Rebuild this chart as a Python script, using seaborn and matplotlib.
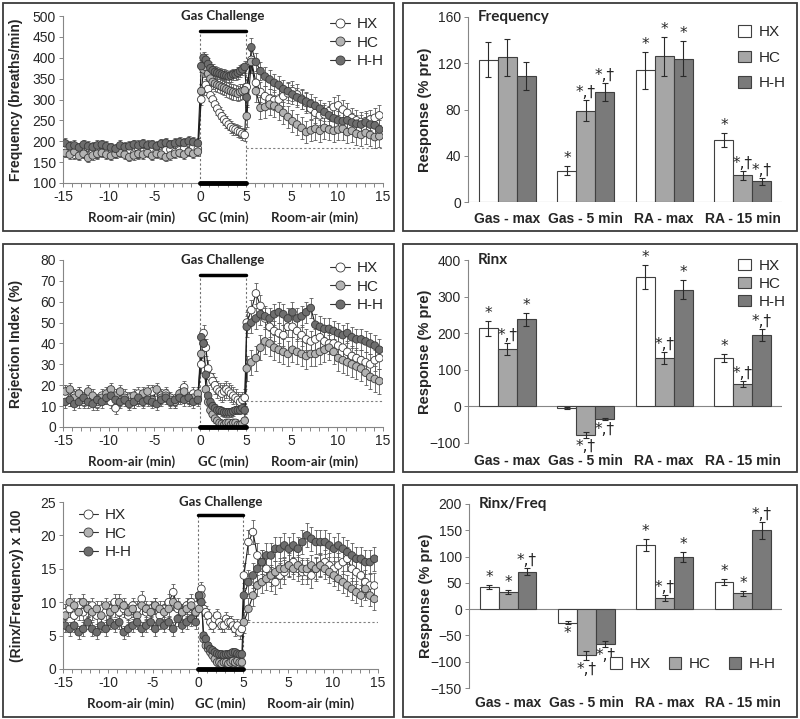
import numpy as np
import pandas as pd
import matplotlib
matplotlib.use('Agg')
import matplotlib.pyplot as plt
import matplotlib.transforms as mtransforms
from matplotlib.lines import Line2D
from matplotlib.patches import Patch, Rectangle
import seaborn as sns

sns.set_theme(style='white')
plt.rcParams['font.family'] = ['Liberation Sans', 'DejaVu Sans']

groups = ['HX', 'HC', 'H-H']

# time grid (min): baseline room air, gas challenge, recovery room air
t_base = np.arange(-14.75, 0, 0.5)
t_gas = np.arange(0.125, 5, 0.25)
t_post = np.arange(5.1, 20, 0.5)
t_all = np.concatenate([t_base, t_gas, t_post])
phase_len = [len(t_base), len(t_gas), len(t_post)]

# ---- Frequency (breaths/min) ----
freq_hx = [180, 172, 168, 175, 170, 165, 172, 168, 174, 178, 172, 170, 176, 180, 175,
           170, 168, 174, 178, 182, 176, 172, 178, 180, 174, 178, 182, 176, 185, 182,
           300, 325, 335, 325, 310, 300, 288, 278, 268, 260, 252, 246, 240, 234, 230,
           228, 224, 222, 218, 215,
           330, 395, 340, 318, 308, 302, 298, 300, 308, 315, 320, 312, 302, 292, 278,
           268, 262, 264, 272, 282, 286, 276, 268, 256, 250, 246, 248, 252, 256, 262]
freq_hc = [172, 168, 175, 165, 170, 160, 166, 170, 172, 168, 165, 170, 172, 168, 162,
           166, 170, 168, 172, 165, 170, 168, 162, 166, 170, 172, 168, 175, 170, 175,
           320, 372, 378, 362, 350, 342, 338, 335, 333, 330, 328, 325, 322, 320, 318,
           316, 314, 318, 320, 322,
           260, 390, 320, 280, 282, 288, 285, 278, 268, 258, 248, 240, 232, 222, 226,
           230, 225, 232, 228, 225, 228, 230, 222, 225, 218, 215, 220, 215, 210, 212]
freq_hh = [195, 188, 190, 185, 192, 188, 186, 190, 192, 188, 185, 182, 190, 186, 188,
           192, 190, 194, 190, 192, 188, 194, 196, 192, 195, 198, 196, 200, 198, 195,
           380, 400, 395, 385, 375, 370, 366, 364, 362, 360, 358, 357, 355, 357, 360,
           360, 364, 368, 372, 378,
           305, 425, 390, 368, 355, 348, 340, 335, 325, 320, 312, 305, 300, 295, 290,
           285, 278, 270, 262, 255, 250, 248, 250, 245, 242, 240, 245, 240, 238, 228]
freq_err = {'HX': [10, 14, 24], 'HC': [10, 18, 26], 'H-H': [12, 14, 22]}

# ---- Rejection Index (%) ----
ri_hx = [14, 13, 15, 16, 12, 14, 13, 11, 15, 14, 12, 9, 13, 15, 14,
         12, 16, 13, 14, 17, 13, 15, 16, 14, 12, 15, 19, 14, 16, 14,
         30, 45, 38, 28, 24, 22, 20, 18, 17, 16, 17, 18, 17, 16, 15,
         14, 13, 12, 13, 14,
         50, 56, 64, 58, 52, 48, 46, 45, 44, 48, 48, 46, 44, 42, 41,
         42, 43, 41, 40, 40, 39, 38, 36, 34, 33, 32, 31, 30, 32, 33]
ri_hc = [17, 18, 14, 16, 13, 17, 15, 12, 14, 16, 18, 15, 17, 14, 12,
         15, 13, 16, 17, 13, 18, 14, 15, 13, 12, 16, 17, 13, 14, 16,
         35, 40, 18, 12, 8, 6, 4, 3, 2, 1.5, 1, 2, 2, 1, 2,
         2, 1, 1, 1.5, 3,
         28, 31, 33, 38, 41, 40, 38, 37, 36, 35, 37, 36, 35, 34, 35,
         35, 36, 37, 38, 36, 33, 32, 31, 30, 29, 28, 26, 24, 23, 22]
ri_hh = [12, 13, 11, 12, 14, 12, 11, 13, 12, 14, 15, 13, 12, 13, 11,
         12, 14, 12, 13, 12, 11, 13, 14, 12, 13, 14, 13, 14, 12, 13,
         43, 40, 25, 15, 12, 10, 9, 8, 8, 7.5, 7, 7, 7, 7, 7.5,
         8, 8, 8, 9, 8,
         48, 50, 52, 54, 53, 52, 54, 55, 54, 52, 55, 52, 53, 55, 57,
         49, 48, 47, 47, 46, 45, 44, 45, 43, 42, 42, 41, 40, 39, 37]
ri_err = {'HX': [3, 4, 5], 'HC': [3, 2, 6], 'H-H': [3, 2, 5]}

# ---- (Rinx/Frequency) x 100 ----
rf_hx = [8.5, 9, 8, 9.5, 8.5, 9, 9.5, 8, 9, 8.5, 9, 10, 8.5, 9, 8,
         9.5, 9, 10.5, 8.5, 9, 9.5, 8, 9, 10, 11.5, 9, 8.5, 9.5, 10, 9.5,
         11, 12, 9, 8.5, 8, 7, 6.5, 7.5, 8, 7, 6.5, 6.5, 7.5, 7, 7,
         6.5, 6, 6.5, 5.5, 6,
         14, 19, 20.5, 17, 16, 15, 13.5, 13, 14, 14.5, 15.5, 16, 15, 14.5, 14.5,
         14, 15, 15.5, 16, 15.5, 15, 15.5, 16, 16.5, 15, 14.5, 14, 13, 12.5, 12.5]
rf_hc = [8, 10, 9.5, 8.5, 10, 9, 8.5, 9, 8, 9.5, 8.5, 9, 10, 9.5, 8.5,
         9, 8, 9.5, 9, 8.5, 9.5, 9, 8.5, 9, 10, 9.5, 8.5, 9, 9.5, 8.5,
         9, 11, 4.5, 3.5, 3, 2.5, 2, 1.5, 1, 1, 0.8, 1, 1, 0.8, 1,
         1.2, 1, 1.2, 1, 1,
         7, 9, 11, 12.5, 13, 13.5, 14, 14.5, 15, 15, 15.5, 15, 15.5, 15, 15,
         15.5, 15, 15.5, 15, 14.5, 14, 13.5, 13, 12.5, 12, 11.5, 11, 12, 11, 10.5]
rf_hh = [6.5, 6, 6.5, 5.5, 6, 7, 6, 5.5, 6.5, 6, 7, 6.5, 7, 5.5, 6,
         6.5, 7, 6, 6.5, 7, 6, 7, 6.5, 7, 6, 7.5, 6.5, 7, 7.5, 7,
         11, 10, 5, 4.5, 3.5, 3, 2.8, 2.5, 2.3, 2.2, 2.2, 2.1, 2.2, 2.2, 2.3,
         2.5, 2.5, 2.3, 2.2, 2.2,
         11, 13, 14, 15, 16, 17, 17, 18, 18, 18.5, 18, 18.5, 18, 19, 20,
         19.5, 19, 19, 19, 18.5, 18, 18.5, 18, 17.5, 17, 16.5, 16.5, 16, 16, 16.5]
rf_err = {'HX': [1.2, 1.0, 1.8], 'HC': [1.2, 0.5, 1.6], 'H-H': [1.0, 0.5, 1.8]}

# ---- bar summaries (% pre) ----
categories = ['Gas - max', 'Gas - 5 min', 'RA - max', 'RA - 15 min']
bf_vals = {'HX': [123, 27, 114, 54], 'HC': [125, 79, 126, 23], 'H-H': [109, 95, 124, 18]}
bf_errs = {'HX': [15, 4, 16, 6], 'HC': [16, 9, 17, 4], 'H-H': [12, 8, 15, 3]}
bf_marks = {'HX': ['', '*', '*', '*'], 'HC': ['', '*,†', '*', '*,†'], 'H-H': ['', '*,†', '*', '*,†']}

br_vals = {'HX': [213, -5, 353, 133], 'HC': [157, -78, 132, 61], 'H-H': [238, -35, 319, 195]}
br_errs = {'HX': [20, 2, 32, 11], 'HC': [16, 8, 16, 8], 'H-H': [18, 3, 26, 16]}
br_marks = {'HX': ['*', '', '*', '*'], 'HC': ['*,†', '*,†', '*,†', '*,†'], 'H-H': ['*', '*,†', '*', '*,†']}

bq_vals = {'HX': [42, -26, 122, 51], 'HC': [32, -88, 21, 30], 'H-H': [71, -66, 99, 150]}
bq_errs = {'HX': [4, 3, 11, 6], 'HC': [4, 9, 5, 5], 'H-H': [7, 6, 9, 16]}
bq_marks = {'HX': ['*', '*', '*', '*'], 'HC': ['*', '*,†', '*,†', '*'], 'H-H': ['*,†', '*,†', '*', '*,†']}

marker_face = {'HX': 'white', 'HC': '#b3b3b3', 'H-H': '#6e6e6e'}
bar_face = {'HX': 'white', 'HC': '#a6a6a6', 'H-H': '#7a7a7a'}
axis_grey = '#868686'
cal = ['Lato', 'DejaVu Sans']

W, H = 800, 719
fig = plt.figure(figsize=(W / 100, H / 100), dpi=100)


def px_axes(l, t, r, b):
    return fig.add_axes([l / W, 1 - b / H, (r - l) / W, (b - t) / H])


def timecourse(ax, series, errs, ylim, yticks, ylabel, base_level, bar_y, leg_kw):
    frames = []
    for g in groups:
        frames.append(pd.DataFrame({'t': t_all, 'v': series[g],
                                    'e': np.repeat(errs[g], phase_len), 'group': g}))
    df = pd.concat(frames, ignore_index=True)
    for g in groups:
        d = df[df['group'] == g]
        ax.errorbar(d['t'], d['v'], yerr=d['e'], fmt='none', ecolor='#5a5a5a',
                    elinewidth=0.6, capsize=1.5, capthick=0.6, zorder=2)
    sns.lineplot(data=df, x='t', y='v', hue='group', hue_order=groups,
                 palette={g: '#1e1e1e' for g in groups}, linewidth=0.8,
                 estimator=None, legend=False, ax=ax, zorder=3)
    sns.scatterplot(data=df, x='t', y='v', hue='group', hue_order=groups,
                    palette=marker_face, edgecolor='#3a3a3a', linewidth=0.6,
                    s=30, legend=False, ax=ax, zorder=4)
    lo, hi = ylim
    # gas challenge markings
    ax.plot([0, 5], [bar_y, bar_y], color='black', lw=2.5, zorder=5)
    ax.plot([0, 5], [lo, lo], color='black', lw=3.5, zorder=6, clip_on=False)
    for xv in (0, 5):
        ax.plot([xv, xv], [lo, bar_y], color='#707070', lw=0.8, ls=(0, (2, 2)), zorder=1)
    ax.plot([5, 20], [base_level, base_level], color='#808080', lw=0.8, ls=(0, (2, 2)), zorder=1)
    trans = mtransforms.blended_transform_factory(ax.transData, ax.transAxes)
    ax.text(2.5, 1.0, 'Gas Challenge', transform=trans, ha='center', va='center',
            family=cal, fontweight='bold', fontsize=9.5)
    for xv, lab in [(-7.5, 'Room-air (min)'), (2.5, 'GC (min)'), (12.5, 'Room-air (min)')]:
        ax.text(xv, -0.205, lab, transform=trans, ha='center', va='center',
                family=cal, fontweight='bold', fontsize=9.5)
    ax.set_xlim(-15, 20)
    ax.set_ylim(lo, hi)
    ax.set_xticks([-15, -10, -5, 0, 5, 10, 15, 20])
    ax.set_xticklabels(['-15', '-10', '-5', '0', '5', '5', '10', '15'])
    ax.set_xticks(np.arange(-15, 21, 1), minor=True)
    ax.set_yticks(yticks)
    ax.tick_params(axis='both', which='both', direction='out', length=3, width=0.7,
                   color=axis_grey, labelsize=10, pad=2, bottom=True, left=True)
    ax.set_xlabel('')
    ax.set_ylabel(ylabel, fontweight='bold', fontsize=10)
    ax.yaxis.set_label_coords(-0.125, 0.5)
    for s in ('top', 'right'):
        ax.spines[s].set_visible(False)
    for s in ('left', 'bottom'):
        ax.spines[s].set_color(axis_grey)
        ax.spines[s].set_linewidth(0.8)
    handles = [Line2D([], [], color='#333333', lw=0.8, marker='o', ms=6.5,
                      mfc=marker_face[g], mec='#3a3a3a', mew=0.6) for g in groups]
    ax.legend(handles, groups, frameon=False, fontsize=11, handlelength=1.3,
              handletextpad=0.4, labelspacing=0.3, borderaxespad=0, **leg_kw)


def bars(ax, vals, errs, marks, ylim, yticks, title, pad, leg_kw):
    df = pd.DataFrame({'cat': np.tile(categories, len(groups)),
                       'group': np.repeat(groups, len(categories)),
                       'val': np.concatenate([vals[g] for g in groups])})
    sns.barplot(data=df, x='cat', y='val', hue='group', hue_order=groups, order=categories,
                palette=bar_face, width=0.72, gap=0, edgecolor='#404040', linewidth=0.8,
                errorbar=None, legend=False, ax=ax, zorder=2)
    for g, cont in zip(groups, ax.containers):
        for j, rect in enumerate(cont):
            xc = rect.get_x() + rect.get_width() / 2
            v, e = vals[g][j], errs[g][j]
            ax.errorbar(xc, v, yerr=e, fmt='none', ecolor='#2a2a2a', elinewidth=0.8,
                        capsize=2, capthick=0.8, zorder=3)
            m = marks[g][j]
            if not m:
                continue
            if v >= 0:
                ax.annotate(m, (xc, v + e), xytext=(0, 0), textcoords='offset points',
                            ha='center', va='bottom', fontsize=11,
                            family=['DejaVu Sans'])
            else:
                ax.annotate(m, (xc, v - e), xytext=(0, -1), textcoords='offset points',
                            ha='center', va='top', fontsize=11,
                            family=['DejaVu Sans'])
    ax.axhline(0, color=axis_grey, lw=0.8, zorder=1)
    ax.set_xlim(-0.5, 3.5)
    ax.set_ylim(*ylim)
    ax.set_yticks(yticks)
    ax.tick_params(axis='y', direction='out', length=3, width=0.7, color=axis_grey,
                   labelsize=10, pad=2, left=True)
    ax.tick_params(axis='x', length=0, pad=pad)
    for lab in ax.get_xticklabels():
        lab.set_fontweight('bold')
        lab.set_fontsize(10)
    ax.set_xlabel('')
    ax.set_ylabel('Response (% pre)', fontweight='bold', fontsize=10.5)
    ax.yaxis.set_label_coords(-0.115, 0.5)
    for s in ('top', 'right', 'bottom'):
        ax.spines[s].set_visible(False)
    ax.spines['left'].set_color(axis_grey)
    ax.spines['left'].set_linewidth(0.8)
    ax.text(0.03, 1.0, title, transform=ax.transAxes, ha='left', va='center',
            family=cal, fontweight='bold', fontsize=11)
    handles = [Patch(facecolor=bar_face[g], edgecolor='#404040', lw=0.8) for g in groups]
    ax.legend(handles, groups, frameon=False, fontsize=11, handlelength=0.8,
              handleheight=0.8, handletextpad=0.5, borderaxespad=0, **leg_kw)


ax1 = px_axes(63, 16, 383, 183)
timecourse(ax1, {'HX': freq_hx, 'HC': freq_hc, 'H-H': freq_hh}, freq_err,
           (100, 500), range(100, 501, 50), 'Frequency (breaths/min)', 185, 465,
           dict(loc='upper right', bbox_to_anchor=(1.02, 1.03)))

ax2 = px_axes(468, 17, 782, 202)
bars(ax2, bf_vals, bf_errs, bf_marks, (0, 160), range(0, 161, 40), 'Frequency', 7,
     dict(loc='upper right', bbox_to_anchor=(1.03, 0.99), labelspacing=0.75))

ax3 = px_axes(63, 260, 383, 427)
timecourse(ax3, {'HX': ri_hx, 'HC': ri_hc, 'H-H': ri_hh}, ri_err,
           (0, 80), range(0, 81, 10), 'Rejection Index (%)', 12.5, 73,
           dict(loc='upper right', bbox_to_anchor=(1.02, 1.03)))

ax4 = px_axes(468, 260, 782, 443)
bars(ax4, br_vals, br_errs, br_marks, (-100, 400), range(-100, 401, 100), 'Rinx', 8,
     dict(loc='upper right', bbox_to_anchor=(1.03, 1.04), labelspacing=0.25))

ax5 = px_axes(63, 502, 378, 669)
timecourse(ax5, {'HX': rf_hx, 'HC': rf_hc, 'H-H': rf_hh}, rf_err,
           (0, 25), range(0, 26, 5), '(Rinx/Frequency) x 100', 7, 23,
           dict(loc='upper left', bbox_to_anchor=(0.03, 1.0)))

ax6 = px_axes(469, 504, 782, 688)
bars(ax6, bq_vals, bq_errs, bq_marks, (-150, 200), range(-150, 201, 50), 'Rinx/Freq', 6,
     dict(loc='center right', bbox_to_anchor=(1.0, 0.13), ncol=3, columnspacing=1.2))

# panel frames
for l, t, r, b in [(3, 3, 394, 231), (403, 3, 797, 231),
                   (3, 244, 394, 472), (403, 244, 797, 472),
                   (3, 485, 394, 717), (403, 485, 797, 717)]:
    fig.add_artist(Rectangle((l / W, 1 - b / H), (r - l) / W, (b - t) / H,
                             transform=fig.transFigure, fill=False,
                             edgecolor='#3c3c3c', lw=1.3))

fig.savefig('out.png', dpi=100)
